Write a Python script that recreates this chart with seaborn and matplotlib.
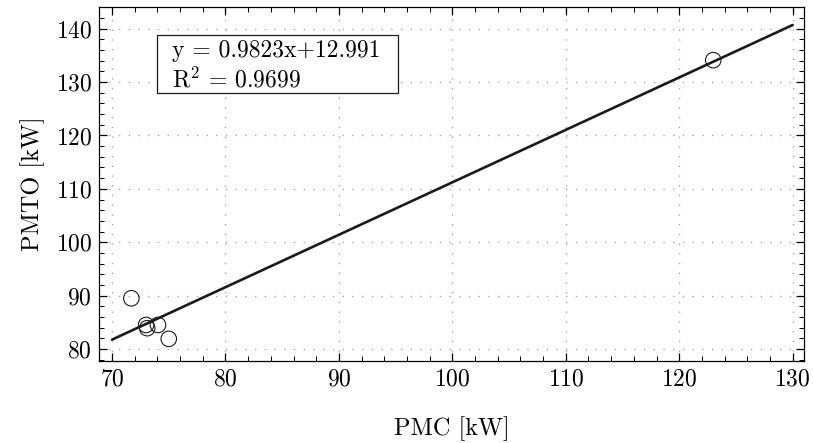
import numpy as np
import pandas as pd
import matplotlib
matplotlib.use("Agg")
import matplotlib.pyplot as plt
import seaborn as sns
from matplotlib.ticker import MultipleLocator
from matplotlib.patches import Rectangle

# Measured operating points
pmc_kw = [71.7, 73.0, 73.1, 74.05, 75.0, 123.0]
pmto_kw = [89.5, 84.5, 83.9, 84.5, 81.9, 134.1]

# Linear fit reported on the chart
slope = 0.9823
intercept = 12.991
r_squared = 0.9699
fit_range = [70, 130]

x_ticks = [70, 80, 90, 100, 110, 120, 130]
y_ticks = [80, 90, 100, 110, 120, 130, 140]

sns.set_theme(style="ticks")
plt.rcParams.update({
    "font.family": ["cmr10", "DejaVu Serif"],
    "mathtext.fontset": "cm",
    "axes.unicode_minus": False,
    "axes.formatter.use_mathtext": True,
    "axes.edgecolor": "black",
    "axes.linewidth": 0.9,
    "xtick.color": "black",
    "ytick.color": "black",
    "text.color": "black",
    "axes.labelcolor": "black",
})

FS = 17

df = pd.DataFrame({"PMC": pmc_kw, "PMTO": pmto_kw})
fit_x = np.array(fit_range, dtype=float)
fit_df = pd.DataFrame({"PMC": fit_x, "PMTO": slope * fit_x + intercept})

W, H = 813, 443
fig = plt.figure(figsize=(W / 100, H / 100), dpi=100)
ax_left, ax_right, ax_top, ax_bottom = 99, 804, 7, 361
ax = fig.add_axes([ax_left / W, 1 - ax_bottom / H,
                   (ax_right - ax_left) / W, (ax_bottom - ax_top) / H])

ax.grid(True, which="major", color="#a8a8a8", linestyle=(0, (1, 6)), linewidth=1.0)
ax.set_axisbelow(True)

sns.lineplot(data=fit_df, x="PMC", y="PMTO", ax=ax, color="#1a1a1a",
             linewidth=1.9, zorder=3)
sns.scatterplot(data=df, x="PMC", y="PMTO", ax=ax, s=125, marker="o",
                facecolors="none", edgecolor="#1a1a1a", linewidth=0.8, zorder=4)

ax.set_xlim(68.85, 131.0)
ax.set_ylim(77.75, 144.06)
ax.set_xticks(x_ticks)
ax.set_yticks(y_ticks)
ax.xaxis.set_minor_locator(MultipleLocator(2))
ax.yaxis.set_minor_locator(MultipleLocator(2))
ax.tick_params(which="both", direction="in", top=True, right=True,
               labelsize=FS, pad=5)
ax.tick_params(which="major", length=6, width=0.9)
ax.tick_params(which="minor", length=3.5, width=0.7)

ax.set_xlabel("PMC [kW]", fontsize=FS + 0.5, labelpad=19)
ax.set_ylabel("PMTO [kW]", fontsize=FS + 0.5, labelpad=8)

# Equation box (placed in figure pixels converted to axes fractions)
def ax_frac(px, py):
    return ((px - ax_left) / (ax_right - ax_left),
            (ax_bottom - py) / (ax_bottom - ax_top))

box_l, box_t, box_r, box_b = 157, 35, 398, 93
x0, y0 = ax_frac(box_l, box_b)
x1, y1 = ax_frac(box_r, box_t)
ax.add_patch(Rectangle((x0, y0), x1 - x0, y1 - y0, transform=ax.transAxes,
                       facecolor="white", edgecolor="#1a1a1a", linewidth=0.9,
                       zorder=5))
tx, ty1 = ax_frac(172, 57)
_, ty2 = ax_frac(172, 87)
ax.text(tx, ty1, f"y = {slope}x+{intercept}", transform=ax.transAxes,
        ha="left", va="baseline", fontsize=FS, zorder=6)
ax.text(tx, ty2, r"$\mathrm{R}^2$" + f" = {r_squared}", transform=ax.transAxes,
        ha="left", va="baseline", fontsize=FS, zorder=6)

fig.savefig("out.png", dpi=100)
